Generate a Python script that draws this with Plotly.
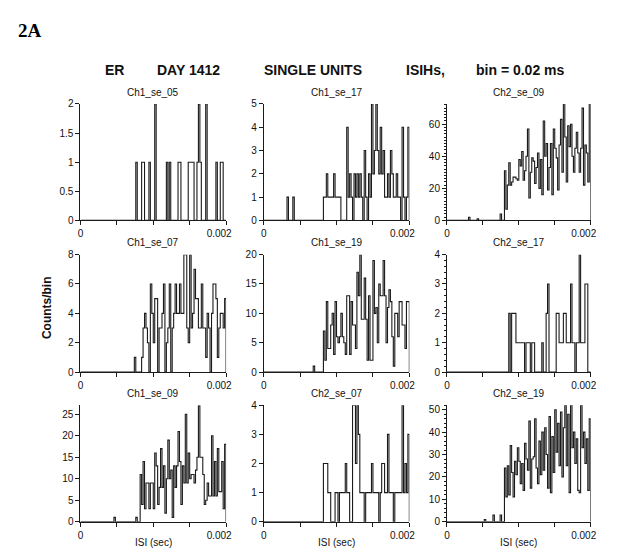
import plotly.graph_objects as go

# ---------------- data (counts per 0.02 ms bin, 100 bins from 0 to 0.002 s) ----------------
bin_width = 0.00002
n_bins = 100

panel_titles = ["Ch1_se_05", "Ch1_se_17", "Ch2_se_09",
                "Ch1_se_07", "Ch1_se_19", "Ch2_se_17",
                "Ch1_se_09", "Ch2_se_07", "Ch2_se_19"]

ch1_se_05 = [0,0,0,0,0,0,0,0,0,0, 0,0,0,0,0,0,0,0,0,0,
             0,0,0,0,0,0,0,0,0,0, 0,0,0,0,0,0,0,0,1,0,
             0,0,1,1,0,0,0,1,0,0, 0,2,0,0,0,0,0,0,0,1,
             0,1,0,0,0,0,0,1,1,0, 0,0,0,0,1,1,1,1,0,0,
             1,2,1,0,0,0,2,0,0,0, 0,0,0,1,0,0,1,1,0,0]

ch1_se_17 = [0,0,0,0,0,0,0,0,0,0, 0,0,0,0,0,0,1,0,0,0,
             1,0,0,0,0,0,0,0,0,0, 0,0,0,0,0,0,0,0,0,0,
             0,1,1,2,1,1,1,1,2,1, 1,1,1,0,0,0,0,4,1,2,
             1,0,2,1,2,1,2,1,0,3, 1,0,2,1,5,2,3,5,3,2,
             4,2,3,1,1,2,1,3,2,1, 1,2,1,1,0,4,1,0,1,4]

ch2_se_09 = [0,0,0,0,0,0,0,0,0,0, 0,0,0,0,0,2,0,0,0,0,
             0,1,0,0,0,0,0,0,0,0, 0,0,0,0,0,0,0,4,0,0,
             31,7,22,36,22,24,27,27,26,25, 38,34,43,25,31,40,57,14,30,39,
             37,23,33,42,20,38,16,62,40,48, 19,33,48,16,57,45,39,19,47,63,
             30,73,52,24,59,46,60,40,30,45, 55,42,30,45,70,22,47,42,24,73]

ch1_se_07 = [0,0,0,0,0,0,0,0,0,0, 0,0,0,0,0,0,0,0,0,0,
             0,0,0,0,0,0,0,0,0,0, 0,0,0,0,0,0,0,1,0,0,
             0,0,1,3,4,3,2,0,6,4, 2,5,5,0,3,3,4,6,0,2,
             3,6,0,3,4,6,4,4,6,4, 4,8,8,3,2,8,3,4,7,5,
             5,3,3,6,3,3,1,4,3,0, 4,6,6,5,1,3,4,4,3,5]

ch1_se_19 = [0,0,0,0,0,0,0,0,0,0, 0,0,0,0,0,0,0,0,0,0,
             0,0,0,0,0,0,0,0,0,0, 0,0,0,0,1,0,0,0,0,0,
             0,7,2,12,4,4,8,10,3,12, 6,5,6,10,6,5,3,13,13,3,
             12,8,8,4,17,13,20,9,9,16, 9,2,13,2,2,19,10,11,5,15,
             13,13,19,13,5,11,14,12,6,1, 10,10,6,12,12,8,8,4,12,12]

ch2_se_17 = [0,0,0,0,0,0,0,0,0,0, 0,0,0,0,0,0,0,0,0,0,
             0,0,0,0,0,0,0,0,0,0, 0,0,0,0,0,0,0,0,0,0,
             0,0,0,2,0,2,2,2,1,1, 1,1,1,1,0,1,1,1,0,1,
             1,0,0,0,0,0,1,0,0,2, 3,0,0,0,0,0,2,2,1,1,
             1,2,2,1,1,1,3,1,1,0, 1,1,4,1,1,1,3,3,0,0]

ch1_se_09 = [0,0,0,0,0,0,0,0,0,0, 0,0,0,0,0,0,0,0,0,0,
             0,0,0,1,0,0,0,0,0,0, 0,0,0,0,0,0,0,0,1,0,
             0,11,4,14,3,9,9,3,9,9, 3,16,13,4,8,17,8,13,2,10,
             19,10,12,1,13,8,13,21,14,4, 13,9,25,9,16,10,11,11,9,12,
             15,27,15,15,11,4,5,9,6,6, 20,6,14,6,17,7,7,14,3,18]

ch2_se_07 = [0,0,0,0,0,0,0,0,0,0, 0,0,0,0,0,0,0,0,0,0,
             0,0,0,0,0,0,0,0,0,0, 0,0,0,0,0,0,0,0,0,0,
             0,2,2,2,1,1,0,0,0,1, 1,0,1,1,1,1,2,1,1,0,
             0,4,4,2,4,3,1,1,1,0, 1,1,1,1,2,1,1,1,1,0,
             1,2,2,1,1,3,1,1,1,0, 1,1,1,1,1,4,1,2,1,3]

ch2_se_19 = [0,0,0,0,0,0,0,0,0,0, 0,0,0,0,0,0,0,0,0,0,
             0,0,0,0,0,0,1,0,0,0, 0,0,3,0,0,0,0,3,0,0,
             24,11,25,12,34,22,11,27,21,33, 27,17,26,14,35,28,23,45,15,28,
             29,46,24,17,36,21,40,23,42,30, 15,47,13,38,22,50,31,44,25,49,
             20,42,52,25,48,13,52,33,40,26, 37,14,13,52,33,40,26,37,14,46]

panel_counts = [ch1_se_05, ch1_se_17, ch2_se_09,
                ch1_se_07, ch1_se_19, ch2_se_17,
                ch1_se_09, ch2_se_07, ch2_se_19]

y_max = [2, 5, 72.6, 8, 20, 4, 27.1, 4, 52]
y_tick_vals = [[0, 0.5, 1, 1.5, 2], [0, 1, 2, 3, 4, 5], [0, 20, 40, 60],
               [0, 2, 4, 6, 8], [0, 5, 10, 15, 20], [0, 1, 2, 3, 4],
               [0, 5, 10, 15, 20, 25], [0, 1, 2, 3, 4], [0, 10, 20, 30, 40, 50]]
y_minor_dtick = [None, None, 2, None, None, 0.2, None, None, 2]

x_tick_vals = [0, 0.0005, 0.001, 0.0015, 0.002]
x_tick_text = ["0", "", "", "", "0.002\u00a0\u00a0\u00a0\u00a0\u00a0"]

header_texts = ["ER", "DAY 1412", "SINGLE UNITS", "ISIHs,", "bin = 0.02 ms"]
header_x_px = [107, 184, 313, 430, 528]

# ---------------- layout geometry (pixels) ----------------
W, H = 620, 551
col_px = [(72, 223), (262, 413), (452, 601)]
row_px = [(92, 211), (246, 366), (400, 519)]

FONT = "Arial, Liberation Sans, Helvetica, sans-serif"
LINE = "#1a1a1a"

fig = go.Figure()
layout = dict(
    width=W, height=H,
    margin=dict(l=0, r=0, t=0, b=0),
    paper_bgcolor="white", plot_bgcolor="white",
    showlegend=False,
    font=dict(family=FONT, size=10, color="#111"),
)
annotations = []
edges = [k * bin_width for k in range(n_bins + 1)]

for i, counts in enumerate(panel_counts):
    r, c = divmod(i, 3)
    x0, x1 = col_px[c]
    y0, y1 = row_px[r]
    ax = "" if i == 0 else str(i + 1)
    fig.add_trace(go.Scatter(
        x=edges, y=list(counts) + [0],
        mode="lines", line=dict(shape="hv", color=LINE, width=1.1),
        xaxis="x" + ax, yaxis="y" + ax, hoverinfo="skip",
    ))
    xaxis = dict(
        domain=[x0 / W, x1 / W], anchor="y" + ax,
        range=[0, 0.002], showgrid=False, zeroline=False,
        showline=True, linecolor=LINE, linewidth=1,
        ticks="outside", ticklen=4, tickcolor=LINE, tickwidth=1,
        tickvals=x_tick_vals, ticktext=x_tick_text,
        tickfont=dict(size=10, color="#111", family=FONT),
    )
    yaxis = dict(
        domain=[1 - y1 / H, 1 - y0 / H], anchor="x" + ax,
        range=[0, y_max[i]], showgrid=False, zeroline=False,
        showline=True, linecolor=LINE, linewidth=1,
        ticks="outside", ticklen=4, tickcolor=LINE, tickwidth=1,
        tickvals=y_tick_vals[i],
        tickfont=dict(size=10, color="#111", family=FONT),
    )
    if y_minor_dtick[i]:
        yaxis["minor"] = dict(ticks="outside", ticklen=2, dtick=y_minor_dtick[i],
                              tickcolor=LINE, showgrid=False)
    layout["xaxis" + ax] = xaxis
    layout["yaxis" + ax] = yaxis
    annotations.append(dict(
        text=panel_titles[i], x=(x0 + x1) / 2 / W, y=1 - (y0 - 12) / H,
        xref="paper", yref="paper", showarrow=False,
        xanchor="center", yanchor="middle",
        font=dict(size=10, color="#111", family=FONT),
    ))
    if r == 2:
        annotations.append(dict(
            text="ISI (sec)", x=(x0 + x1) / 2 / W, y=1 - 540 / H,
            xref="paper", yref="paper", showarrow=False,
            xanchor="center", yanchor="middle",
            font=dict(size=10, color="#111", family=FONT),
        ))

for t, xp in zip(header_texts, header_x_px):
    annotations.append(dict(
        text="<b>%s</b>" % t, x=xp / W, y=1 - 57 / H,
        xref="paper", yref="paper", showarrow=False,
        xanchor="center", yanchor="middle",
        font=dict(size=14, color="#111", family=FONT),
    ))

annotations.append(dict(
    text="<b>2A</b>", x=5 / W, y=1 - 17 / H, xref="paper", yref="paper",
    showarrow=False, xanchor="left", yanchor="middle",
    font=dict(size=19, color="#000", family="Liberation Serif, Times New Roman, serif"),
))
annotations.append(dict(
    text="<b>Counts/bin</b>", x=38 / W, y=1 - 300 / H, xref="paper", yref="paper",
    showarrow=False, xanchor="center", yanchor="middle", textangle=-90,
    font=dict(size=12, color="#111", family=FONT),
))

layout["annotations"] = annotations
fig.update_layout(**layout)
fig.write_html("out.html")
